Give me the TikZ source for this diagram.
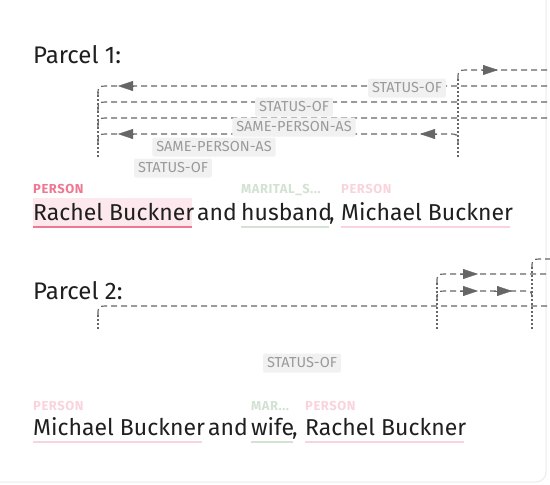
\documentclass[tikz,border=0pt]{standalone}
\usepackage{fontspec}
\setmainfont{Fira Sans}
\newfontfamily\tagfont[LetterSpace=4]{Fira Sans}
\usetikzlibrary{arrows.meta,positioning}
\definecolor{relGray}{HTML}{666666}
\definecolor{tagFill}{HTML}{F1F1F1}
\definecolor{tagText}{HTML}{9A9A9A}
\definecolor{perStrong}{HTML}{EE7891}
\definecolor{perFill}{HTML}{FDE9ED}
\definecolor{perLight}{HTML}{FAD4DC}
\definecolor{marGreen}{HTML}{D3E2D3}
\definecolor{cardLine}{HTML}{EBEBEB}
\tikzset{
  wordtxt/.style={font=\fontsize{23}{27}\selectfont,inner sep=0pt,
                  anchor=base west,text=black!88},
  titletxt/.style={wordtxt,font=\fontsize{24}{28}\selectfont},
  enttag/.style={font=\tagfont\fontsize{13}{15}\selectfont\bfseries,
                 inner sep=0pt,anchor=base west},
  reltag/.style={rounded corners=2pt,fill=tagFill,text=tagText,
                 font=\fontsize{14.5}{16}\selectfont,inner xsep=4pt,
                 inner ysep=0pt,minimum height=19pt},
  relline/.style={relGray,line width=1.2pt,dash pattern=on 6pt off 4pt},
  relstem/.style={relGray,line width=2pt,dash pattern=on 2pt off 2pt},
  relhead/.style={relGray,-{Triangle[length=15pt,width=10pt]}},
  uline/.style={line width=2pt}
}

\begin{document}
\begin{tikzpicture}[x=1pt,y=-1pt]
  \useasboundingbox (0,0) rectangle (550,485);
  \draw[draw=cardLine,line width=1pt,fill=white,rounded corners=10pt]
    (-20,-20) rectangle (546,482);

  % Parcel 1
  \node[titletxt] (title1) at (33,63) {Parcel 1:};

  \coordinate (p1left) at (98,157);
  \coordinate (p1right) at (458,157);
  \draw[relstem] (p1left) -- (98,92);
  \draw[relstem] (p1right) -- (458,78);

  \draw[relline] (98,95) .. controls (98,86) .. (110,86) -- (550,86);
  \draw[relline] (98,111) .. controls (98,102) .. (110,102) -- (550,102);
  \draw[relline] (98,127) .. controls (98,118) .. (110,118) -- (550,118);
  \draw[relline] (98,143) .. controls (98,134) .. (110,134) -- (448,134)
    .. controls (458,134) .. (458,143);
  \draw[relline] (458,79) .. controls (458,70) .. (470,70) -- (550,70);

  \draw[relhead] (133,86) -- (118,86);
  \draw[relhead] (133,134) -- (118,134);
  \draw[relhead] (437,134) -- (420,134);
  \draw[relhead] (482,70) -- (498,70);

  \node[reltag] (rel1a) at (407,88) {STATUS-OF};
  \node[reltag] (rel1b) at (294,107) {STATUS-OF};
  \node[reltag] (rel1c) at (294,127) {SAME-PERSON-AS};
  \node[reltag] (rel1d) at (214,147) {SAME-PERSON-AS};
  \node[reltag] (rel1e) at (173,168) {STATUS-OF};

  \fill[perFill] (33,198) rectangle (192,227);
  \node[enttag,text=perStrong] (tag1a) at (33,193) {PERSON};
  \node[enttag,text=marGreen] (tag1b) at (241,193) {MARITAL\_S...};
  \node[enttag,text=perLight] (tag1c) at (341,193) {PERSON};

  \node[wordtxt] (rachel1) at (33,220) {Rachel Buckner};
  \node[wordtxt] (and1) at (197,220) {and};
  \node[wordtxt] (husband1) at (241,220) {husband};
  \node[wordtxt] (comma1) at (329,220) {,};
  \node[wordtxt] (michael1) at (341,220) {Michael Buckner};
  \draw[uline,perStrong] (33,227) -- (192,227);
  \draw[uline,marGreen] (241,227) -- (329,227);
  \draw[uline,perLight] (341,227) -- (510,227);

  % Parcel 2
  \node[titletxt] (title2) at (33,299) {Parcel 2:};

  \coordinate (p2left) at (98,329);
  \coordinate (p2mid) at (437,329);
  \coordinate (p2right) at (532,329);
  \draw[relstem] (p2left) -- (98,313);
  \draw[relstem] (p2mid) -- (437,282);
  \draw[relstem] (p2right) -- (532,267);

  \draw[relline] (98,315) .. controls (98,306) .. (110,306) -- (550,306);
  \draw[relline] (437,283) .. controls (437,274) .. (449,274) -- (550,274);
  \draw[relline] (437,300) .. controls (437,291) .. (449,291) -- (522,291)
    .. controls (532,291) .. (532,300);
  \draw[relline] (532,268) .. controls (532,259) .. (544,259) -- (550,259);

  \draw[relhead] (460,274) -- (478,274);
  \draw[relhead] (460,291) -- (478,291);
  \draw[relhead] (494,291) -- (512,291);

  \node[reltag] (rel2a) at (302,363) {STATUS-OF};

  \node[enttag,text=perLight] (tag2a) at (33,410) {PERSON};
  \node[enttag,text=marGreen] (tag2b) at (251,410) {MAR...};
  \node[enttag,text=perLight] (tag2c) at (305,410) {PERSON};

  \node[wordtxt] (michael2) at (33,435) {Michael Buckner};
  \node[wordtxt] (and2) at (208,435) {and};
  \node[wordtxt] (wife2) at (251,435) {wife};
  \node[wordtxt] (comma2) at (292,435) {,};
  \node[wordtxt] (rachel2) at (305,435) {Rachel Buckner};
  \draw[uline,perLight] (33,442) -- (202,442);
  \draw[uline,marGreen] (251,442) -- (293,442);
  \draw[uline,perLight] (305,442) -- (464,442);
\end{tikzpicture}
\end{document}
